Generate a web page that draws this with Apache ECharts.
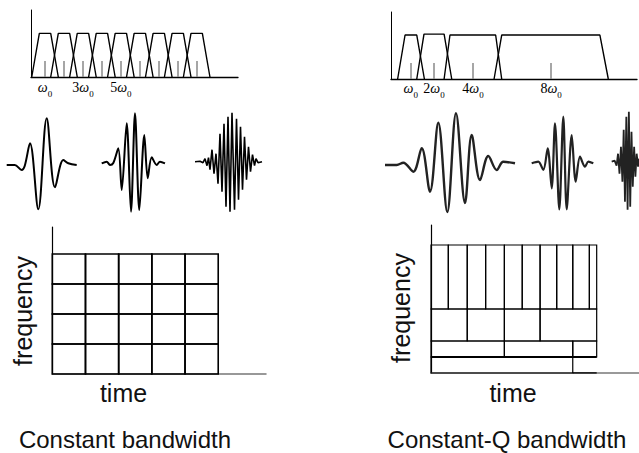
<!DOCTYPE html>
<html><head><meta charset="utf-8">
<script src="https://cdn.jsdelivr.net/npm/echarts@6/dist/echarts.min.js"></script>
<style>html,body{margin:0;padding:0;background:#fff}#c{width:639px;height:453px}</style>
</head><body><div id="c"></div>
<script>
// ================= DATA =================
// Constant-bandwidth filter bank (frequency in units of ω0)
const cbCenters = [1, 2, 3, 4, 5, 6, 7, 8, 9];
const cbBaseHalfWidth = 0.7;
const cbTopHalfWidth = 0.3;
const cbTickValues = [1, 2, 3, 4, 5, 6, 7, 8, 9];
const cbLabelValues = [1, 3, 5];
const cbLabelText = ['ω0', '3ω0', '5ω0'];

// Constant-Q filter bank: [base left, top left, top right, base right]
const cqBands = [
  [0.14, 0.52, 1.12, 1.51],
  [1.12, 1.49, 2.52, 2.91],
  [2.52, 2.82, 5.16, 5.47],
  [5.08, 5.47, 10.5, 10.93]
];
const cqBandHeights = [1, 1.02, 1, 1];
const cqTickValues = [0.81, 2, 4, 8];
const cqLabelText = ['ω0', '2ω0', '4ω0', '8ω0'];

// Wavelets: [time, amplitude] extremes
const cbWavelet1 = [[0,0],[8,0],[15,-5],[18,-1],[23.3,21.7],[31.6,-44.3],[40,46.7],[48.3,-22.3],[56.6,5],[61.6,1.7],[70,0]];
const cbWavelet2 = [[0,0.7],[5,2.3],[8.3,-1],[11.6,1],[16.6,15.7],[20,-26],[25,40.7],[29.3,-47.7],[33.3,50.7],[37.6,-46],[42.6,29],[46,-14.3],[50,6.7],[55,-1],[58.3,2.3],[63.3,0.7]];
const cbWavelet3 = [[0,0],[5,0.5],[8,-1],[10,3],[12,-4],[13.5,4],[15,-8],[17,12],[19,-12],[21,8],[23,-22],[25,28],[27,-30],[29,38],[31,-45],[33,45],[35,-50],[37,49],[39.5,-48],[41.5,43],[43.5,-38],[45.5,35],[47.5,-28],[49.5,25],[51.5,-18],[53.5,15],[55.5,-10],[57.5,7],[59.5,-4],[61,3],[63,-1],[67,0]];
const cqWavelet1 = [[0,0],[11.7,0],[18.3,2.3],[28.3,-6.7],[36.7,16.7],[45,-26.7],[53.3,42.3],[62.3,-47],[71,51.7],[80,-38],[86.7,30],[95,-15],[103.3,9],[111.7,-5],[118.3,3.3],[130,1.7]];
const cqWavelet2 = [[0,0],[6.6,1.6],[11.6,-6.7],[16,15],[20,-25],[23.3,40],[27.6,-46],[31.6,46.6],[35,-46],[40,28.3],[44,-18.4],[48.3,6.6],[53.3,-3.4],[56.6,1.6],[61.6,0]];
const cqWavelet3 = [[0,0],[3,1],[5,-4],[6.5,8],[8,-12],[9.5,15],[11,-20],[12.3,32],[13.6,-40],[15,45],[16.3,-48],[17.6,50],[19,-45],[20.3,30],[21.6,-25],[23,15],[24.3,-15],[25.6,8],[27,-5],[28,3]];

// Time-frequency tilings
const cbTimeEdges = [0, 1, 2, 3, 4, 5];
const cbFreqEdges = [0, 1, 2, 3, 4];
const cqFreqEdges = [0, 1, 2, 4, 8];
const cqTimeEdges = [
  [0, 7.94],
  [0, 4.11, 7.94, 9.28],
  [0, 2.03, 4.11, 6.11, 9.28],
  [0, 0.97, 2.03, 3.06, 4.11, 5.11, 6.11, 7.04, 7.94, 8.87, 9.28]
];
const cqBottomEdge = [[7.94, 0], [9.28, 0]];

// Text
const freqName = 'frequency';
const timeName = 'time';
const cbTitle = 'Constant bandwidth';
const cqTitle = 'Constant-Q bandwidth';

// ================= BUILD =================
const chart = echarts.init(document.getElementById('c'), null, {renderer: 'svg'});
const SANS = 'Liberation Sans, Arial, sans-serif';
const SERIF = 'Liberation Serif, Times New Roman, serif';

function richLabel(s) {
  const m = s.match(/^(\d*)ω0$/);
  return (m && m[1] ? '{num|' + m[1] + '}' : '') + '{om|ω}{sub|0}';
}
const labelRich = {
  num: {fontFamily: SERIF, fontSize: 14, lineHeight: 18, verticalAlign: 'top', color: '#000'},
  om: {fontFamily: SERIF, fontSize: 14, fontStyle: 'italic', lineHeight: 18, verticalAlign: 'top', color: '#000'},
  sub: {fontFamily: SERIF, fontSize: 9, lineHeight: 9, verticalAlign: 'bottom', color: '#000'}
};

const grids = [];
const xAxes = [];
const yAxes = [];
const series = [];

function hiddenAxis(min, max, gridIndex) {
  return {type: 'value', gridIndex, min, max, show: false, splitLine: {show: false}};
}

// ---- spectrum panels ----
function spectrumPanel(gi, box, xr, yr, tickVals, labelVals, labelTexts, margin) {
  grids.push(box);
  xAxes.push({
    type: 'value', gridIndex: gi, min: xr[0], max: xr[1],
    axisLine: {show: true, onZero: false, lineStyle: {color: '#000', width: 1.3}},
    axisTick: {show: true, inside: true, length: 16, customValues: tickVals, lineStyle: {color: '#888', width: 1.5}},
    axisLabel: {show: true, customValues: labelVals, margin: margin, color: '#000', rich: labelRich,
      formatter: v => { const i = labelVals.indexOf(v); return i >= 0 ? richLabel(labelTexts[i]) : ''; }},
    splitLine: {show: false}
  });
  yAxes.push({
    type: 'value', gridIndex: gi, min: yr[0], max: yr[1],
    axisLine: {show: true, onZero: false, lineStyle: {color: '#000', width: 1}},
    axisTick: {show: false}, axisLabel: {show: false}, splitLine: {show: false}
  });
}
spectrumPanel(0, {left: 31, top: 10, width: 207, height: 67}, [0.26, 11.18], [0, 1.537], cbTickValues, cbLabelValues, cbLabelText, 3);
spectrumPanel(1, {left: 391, top: 12, width: 246, height: 67}, [-0.2, 12.4], [0, 1.523], cqTickValues, cqTickValues, cqLabelText, 2);

cbCenters.forEach(c => {
  series.push({type: 'line', xAxisIndex: 0, yAxisIndex: 0, symbol: 'none', silent: true,
    lineStyle: {color: '#000', width: 1.4},
    data: [[c - cbBaseHalfWidth, 0], [c - cbTopHalfWidth, 1], [c + cbTopHalfWidth, 1], [c + cbBaseHalfWidth, 0]]});
});
cqBands.forEach((b, i) => {
  const h = cqBandHeights[i];
  series.push({type: 'line', xAxisIndex: 1, yAxisIndex: 1, symbol: 'none', silent: true,
    lineStyle: {color: '#000', width: 1.4},
    data: [[b[0], 0], [b[1], h], [b[2], h], [b[3], 0]]});
});

// ---- wavelets ----
const wavelets = [
  {data: cbWavelet1, box: {left: 6.7, top: 110, width: 70, height: 110}, w: 2, smooth: 0.35, color: '#000'},
  {data: cbWavelet2, box: {left: 101.7, top: 109, width: 63.3, height: 110}, w: 2, smooth: 0.3, color: '#000'},
  {data: cbWavelet3, box: {left: 195, top: 106.7, width: 67, height: 110}, w: 1.6, smooth: false, color: '#000'},
  {data: cqWavelet1, box: {left: 385, top: 110, width: 130, height: 110}, w: 2.4, smooth: 0.35, color: '#222'},
  {data: cqWavelet2, box: {left: 531.7, top: 108.3, width: 61.6, height: 110}, w: 2.2, smooth: 0.3, color: '#222'},
  {data: cqWavelet3, box: {left: 611.7, top: 106.7, width: 28, height: 110}, w: 1.8, smooth: false, color: '#222'}
];
wavelets.forEach(wv => {
  const gi = grids.length;
  grids.push(wv.box);
  const d = wv.data;
  xAxes.push(hiddenAxis(0, d[d.length - 1][0], gi));
  yAxes.push(hiddenAxis(-55, 55, gi));
  series.push({type: 'line', xAxisIndex: gi, yAxisIndex: gi, symbol: 'none', silent: true,
    smooth: wv.smooth, lineStyle: {color: wv.color, width: wv.w}, data: d});
});

// ---- time-frequency tilings ----
function tfPanel(box, xr, yr) {
  const gi = grids.length;
  grids.push(box);
  xAxes.push({type: 'value', gridIndex: gi, min: xr[0], max: xr[1],
    axisLine: {show: true, onZero: false, lineStyle: {color: '#777', width: 1.5}},
    axisTick: {show: false}, axisLabel: {show: false}, splitLine: {show: false}});
  yAxes.push({type: 'value', gridIndex: gi, min: yr[0], max: yr[1],
    axisLine: {show: true, onZero: false, lineStyle: {color: '#000', width: 1.2}},
    axisTick: {show: false}, axisLabel: {show: false}, splitLine: {show: false}});
  return gi;
}
function tileRender(width) {
  return function (params, api) {
    const p0 = api.coord([api.value(0), api.value(2)]);
    const p1 = api.coord([api.value(1), api.value(3)]);
    return {type: 'rect', shape: {x: p0[0], y: p1[1], width: p1[0] - p0[0], height: p0[1] - p1[1]},
      style: {fill: 'none', stroke: '#000', lineWidth: width}};
  };
}
const gCB = tfPanel({left: 52.3, top: 227, width: 213.7, height: 147}, [0, 6.44], [0, 4.9]);
const cbTiles = [];
for (let i = 0; i < cbTimeEdges.length - 1; i++)
  for (let j = 0; j < cbFreqEdges.length - 1; j++)
    cbTiles.push([cbTimeEdges[i], cbTimeEdges[i + 1], cbFreqEdges[j], cbFreqEdges[j + 1]]);
series.push({type: 'custom', xAxisIndex: gCB, yAxisIndex: gCB, silent: true, renderItem: tileRender(1.6),
  encode: {x: [0, 1], y: [2, 3]}, data: cbTiles});

const gCQ = tfPanel({left: 431, top: 225, width: 208, height: 148}, [0, 11.65], [0, 9.25]);
const cqTiles = [];
cqTimeEdges.forEach((edges, j) => {
  for (let i = 0; i < edges.length - 1; i++)
    cqTiles.push([edges[i], edges[i + 1], cqFreqEdges[j], cqFreqEdges[j + 1]]);
});
series.push({type: 'custom', xAxisIndex: gCQ, yAxisIndex: gCQ, silent: true, renderItem: tileRender(1.2),
  encode: {x: [0, 1], y: [2, 3]}, data: cqTiles});
series.push({type: 'line', xAxisIndex: gCQ, yAxisIndex: gCQ, symbol: 'none', silent: true,
  lineStyle: {color: '#000', width: 1.6}, data: cqBottomEdge});
series.push({type: 'line', xAxisIndex: gCQ, yAxisIndex: gCQ, symbol: 'none', silent: true,
  lineStyle: {color: '#000', width: 1.8}, data: [[0, cqFreqEdges[1]], [cqTimeEdges[1][cqTimeEdges[1].length - 1], cqFreqEdges[1]]]});

// ---- texts ----
function txt(text, x, y, rot, size) {
  return {type: 'text', x, y, rotation: rot || 0, silent: true,
    style: {text, fontFamily: SANS, fontSize: size || 25, fill: '#111', align: 'center', verticalAlign: 'middle'}};
}
const graphic = [
  txt(freqName, 23, 311, Math.PI / 2),
  txt(freqName, 401, 308, Math.PI / 2),
  txt(timeName, 123.5, 393),
  txt(timeName, 513, 393),
  txt(cbTitle, 125, 439, 0, 24),
  txt(cqTitle, 507, 439, 0, 24)
];

chart.setOption({
  animation: false,
  backgroundColor: '#fff',
  grid: grids.map(g => Object.assign({containLabel: false}, g)),
  xAxis: xAxes,
  yAxis: yAxes,
  series,
  graphic
});
</script></body></html>
